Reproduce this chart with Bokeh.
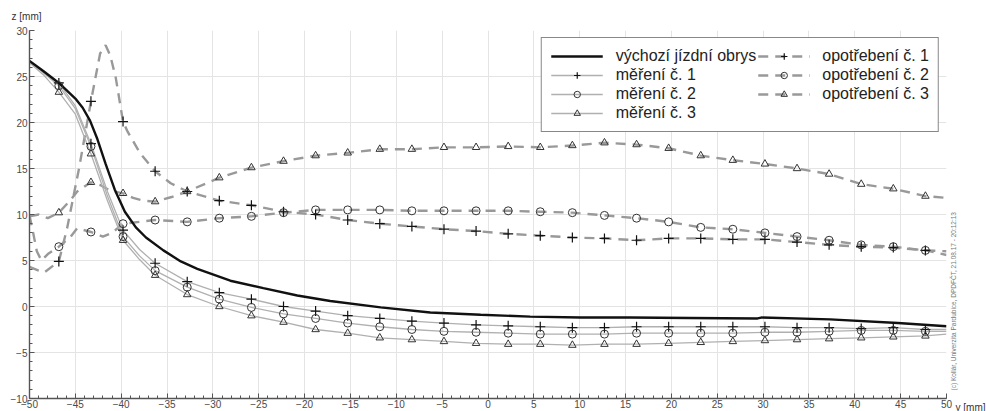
import math
from bokeh.plotting import figure
from bokeh.models import Range1d, SingleIntervalTicker, Legend, LegendItem, Label
from bokeh.embed import file_html
from bokeh.resources import INLINE

# ---------------- data ----------------
x_markers = [-46.8, -43.3, -39.8, -36.3, -32.8, -29.3, -25.8, -22.3, -18.8, -15.3,
             -11.8, -8.3, -4.8, -1.3, 2.2, 5.7, 9.2, 12.7, 16.2, 19.7,
             23.2, 26.7, 30.2, 33.7, 37.2, 40.7, 44.2, 47.7]

# výchozí jízdní obrys
base_x = [-50, -48.5, -46.8, -45, -44.2, -43.4, -42.6, -41.7, -40.7, -39.6, -38.4, -37.3, -35.4,
          -33.5, -31.7, -28.1, -24.5, -20.8, -17.2, -11.7, -6.3, -0.8, 4.6, 10.1, 15.5,
          22.0, 29.4, 29.8, 37.3, 44.7, 50]
base_y = [26.7, 25.6, 24.3, 22.6, 21.6, 20.2, 18.2, 15.5, 12.7, 10.3, 8.6, 7.5, 6.1,
          4.9, 4.1, 2.8, 2.0, 1.2, 0.6, -0.1, -0.65, -0.9, -1.1, -1.2, -1.2,
          -1.25, -1.3, -1.2, -1.4, -1.8, -2.15]

# měření (measurements) – marker values
m1_y = [24.3, 17.7, 8.3, 4.7, 2.7, 1.5, 0.8, 0.0, -0.5, -1.0, -1.3, -1.6, -1.8, -2.0,
        -2.1, -2.2, -2.3, -2.3, -2.2, -2.2, -2.2, -2.2, -2.2, -2.3, -2.3, -2.4, -2.3, -2.5]
m2_y = [24.0, 17.4, 7.6, 3.9, 2.1, 0.8, -0.1, -0.8, -1.3, -1.8, -2.2, -2.5, -2.7, -2.8,
        -2.9, -3.0, -3.0, -3.0, -2.9, -2.9, -2.9, -2.9, -2.8, -2.8, -2.7, -2.6, -2.6, -2.7]
m3_y = [23.3, 16.6, 7.2, 3.4, 1.3, 0.0, -1.0, -1.7, -2.5, -2.9, -3.4, -3.6, -3.8, -4.0,
        -4.1, -4.1, -4.2, -4.1, -4.1, -4.0, -3.9, -3.8, -3.7, -3.6, -3.5, -3.4, -3.3, -3.2]
# extra points of the measurement curves (between / outside markers)
m_extra_x = [-50, -48.5, -45, -41.5, -38, 50]
m1_extra_y = [26.6, 25.5, 21.8, 12.5, 6.2, -2.5]
m2_extra_y = [26.6, 25.4, 21.5, 12.0, 5.5, -2.7]
m3_extra_y = [26.5, 25.2, 20.9, 11.5, 5.1, -3.0]

# opotřebení (wear) – marker values
w1_y = [4.9, 22.3, 20.1, 14.7, 12.5, 11.5, 11.0, 10.3, 10.0, 9.4, 9.0, 8.7, 8.4, 8.2,
        7.9, 7.7, 7.5, 7.4, 7.2, 7.4, 7.4, 7.3, 7.3, 7.0, 6.7, 6.5, 6.4, 6.1]
w2_y = [6.5, 8.1, 9.0, 9.4, 9.2, 9.6, 9.8, 10.2, 10.5, 10.5, 10.5, 10.4, 10.4, 10.4,
        10.4, 10.3, 10.2, 9.9, 9.6, 9.2, 8.6, 8.4, 8.0, 7.6, 7.2, 6.7, 6.5, 6.1]
w3_y = [10.2, 13.5, 12.3, 11.4, 12.5, 14.0, 15.1, 15.8, 16.4, 16.7, 17.1, 17.1, 17.3, 17.3,
        17.4, 17.3, 17.5, 17.8, 17.6, 17.2, 16.4, 15.9, 15.5, 15.0, 14.4, 13.3, 12.8, 12.0]
# extra points of the wear curves
w1_extra_x = [-50, -49, -48.4, -45.9, -44.6, -42.3, -41.7, -41.2, -40.6, -39.3, -37.9, -34.6, 50]
w1_extra_y = [4.3, 3.9, 3.7, 8.5, 15.0, 27.5, 28.4, 27.3, 24.9, 19.0, 16.6, 13.4, 5.6]
w2_extra_x = [-50, -49.7, -49.2, -48.7, -48.0, -45.5, -44.8, -42.0, -41.0, -38.0, 50]
w2_extra_y = [9.9, 8.5, 6.0, 5.0, 5.7, 7.6, 8.5, 7.6, 8.0, 9.2, 6.0]
w3_extra_x = [-50, -49.0, -48.0, -45.5, -44.8, -42.3, -41.2, -38.7, -37.6, -34.5, 50]
w3_extra_y = [9.8, 10.0, 9.6, 11.6, 12.5, 13.2, 12.6, 11.8, 11.5, 11.9, 11.8]

labels_left = ["výchozí jízdní obrys", "měření č. 1", "měření č. 2", "měření č. 3"]
labels_right = ["opotřebení č. 1", "opotřebení č. 2", "opotřebení č. 3"]


def merged(xa, ya, xb, yb):
    pts = sorted(zip(list(xa) + list(xb), list(ya) + list(yb)))
    return [a for a, _ in pts], [b for _, b in pts]


FONT = "Liberation Sans"

p = figure(width=986, height=411,
           min_border_left=29, min_border_right=40, min_border_top=30, min_border_bottom=13,
           x_range=Range1d(-50, 50), y_range=Range1d(-10, 30),
           output_backend="svg", toolbar_location=None)
p.outline_line_color = None
p.background_fill_color = "white"
p.border_fill_color = "white"

for ax in (p.xaxis[0], p.yaxis[0]):
    ax.ticker = SingleIntervalTicker(interval=5, num_minor_ticks=5)
    ax.major_tick_in = 5
    ax.major_tick_out = 0
    ax.minor_tick_in = 3
    ax.minor_tick_out = 0
    ax.axis_line_color = "#555555"
    ax.axis_line_width = 1.4
    ax.major_tick_line_color = "#555555"
    ax.minor_tick_line_color = "#555555"
    ax.major_label_text_font = FONT
    ax.major_label_text_font_size = "10px"
    ax.major_label_text_color = "#4a4a4a"
p.xaxis.major_label_standoff = 1
p.yaxis.major_label_standoff = 2

p.xgrid.grid_line_color = "#e4e4e4"
p.ygrid.grid_line_color = "#e4e4e4"

WEAR_COLOR = "#999999"
MEAS_COLOR = "#b0b0b0"
MK = "#333333"

# wear curves
wear = []
for ex, ey, wy, mk in [(w1_extra_x, w1_extra_y, w1_y, "cross"),
                       (w2_extra_x, w2_extra_y, w2_y, "circle"),
                       (w3_extra_x, w3_extra_y, w3_y, "triangle")]:
    lx, ly = merged(ex, ey, x_markers, wy)
    lr = p.line(lx, ly, line_color=WEAR_COLOR, line_width=2.4, line_dash="10 7")
    wear.append((lr, wy, mk))

# measurement curves
meas = []
for ey, my, mk in [(m1_extra_y, m1_y, "cross"), (m2_extra_y, m2_y, "circle"), (m3_extra_y, m3_y, "triangle")]:
    lx, ly = merged(m_extra_x, ey, x_markers, my)
    lr = p.line(lx, ly, line_color=MEAS_COLOR, line_width=1.3)
    meas.append((lr, my, mk))

base_r = p.line(base_x, base_y, line_color="#111111", line_width=2.4)


def markers(ys, mk):
    if mk == "cross":
        return p.scatter(x_markers, ys, marker="cross", size=10, line_color="#111111", line_width=1.2)
    if mk == "circle":
        return p.scatter(x_markers, ys, marker="circle", size=8, line_color=MK, fill_color=None, line_width=1.0)
    return p.scatter(x_markers, ys, marker="triangle", size=7.5, line_color=MK, fill_color=None, line_width=1.0)


meas_items = []
for lr, ys, mk in meas:
    sr = markers(ys, mk)
    meas_items.append([lr, sr])
wear_items = []
for lr, ys, mk in wear:
    sr = markers(ys, mk)
    wear_items.append([lr, sr])

items = [LegendItem(label=labels_left[0], renderers=[base_r])]
for lab, rs in zip(labels_left[1:], meas_items):
    items.append(LegendItem(label=lab, renderers=rs))
for lab, rs in zip(labels_right, wear_items):
    items.append(LegendItem(label=lab, renderers=rs))

legend = Legend(items=items, location="top_right", nrows=4, margin=7,
                glyph_width=52, glyph_height=16, label_height=16, label_standoff=13,
                spacing=1, padding=9,
                label_text_font=FONT, label_text_font_size="16px", label_text_color="#222222",
                border_line_color="#111111", border_line_width=1.5,
                background_fill_color="white", background_fill_alpha=1.0)
p.add_layout(legend)

p.add_layout(Label(x=-50, y=30, x_offset=-18, y_offset=14, text="z [mm]",
                   text_font=FONT, text_font_size="10px", text_color="#333333",
                   text_baseline="middle", text_align="left"), "above")
p.add_layout(Label(x=50, y=-10, x_offset=9, y_offset=-3, text="y [mm]",
                   text_font=FONT, text_font_size="10px", text_color="#333333",
                   text_baseline="top", text_align="left"), "right")
p.add_layout(Label(x=50, y=-10, x_offset=7, y_offset=8, angle=math.pi / 2,
                   text="(c) Kollár, Univerzita Pardubice, DPDFČT, 21.08.17 - 20:12:13",
                   text_font=FONT, text_font_size="6.5px", text_color="#777777",
                   text_baseline="middle", text_align="left"), "right")

open("out.html", "w").write(file_html(p, INLINE))
